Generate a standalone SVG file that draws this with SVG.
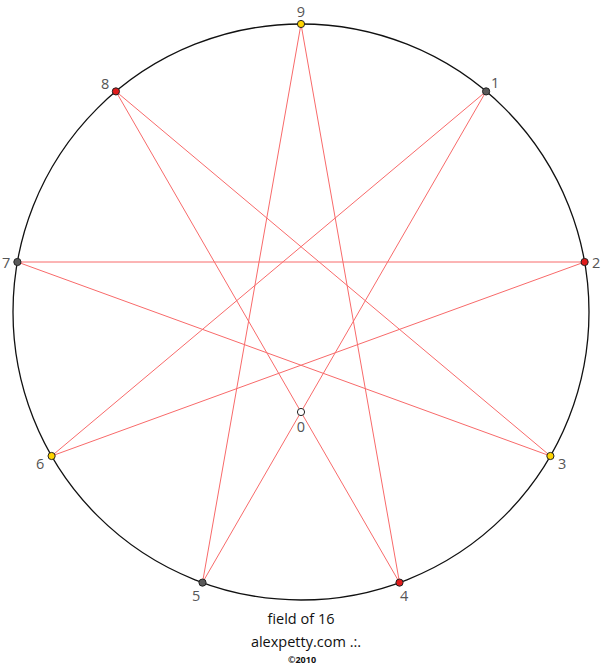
<svg xmlns="http://www.w3.org/2000/svg" width="602" height="672" viewBox="0 0 602 672">
<style>
.lbl{font-family:"Open Sans","Noto Sans",sans-serif;font-size:14.5px;fill:#555}
.dot{stroke:#222;stroke-width:1}
.edge{stroke:#f86a6a;stroke-width:1;fill:none}
.foot{font-family:"Open Sans","Noto Sans",sans-serif;fill:#111;text-anchor:middle}
</style>
<rect width="602" height="672" fill="#fff"/>
<circle id="ring" cx="301" cy="312" r="288" fill="none" stroke="#111" stroke-width="1.3"/>
<g id="connectors">
<line class="edge" x1="301" y1="24" x2="202.5" y2="582.6"/>
<line class="edge" x1="301" y1="24" x2="399.5" y2="582.6"/>
<line class="edge" x1="115.9" y1="91.4" x2="399.5" y2="582.6"/>
<line class="edge" x1="115.9" y1="91.4" x2="550.4" y2="456"/>
<line class="edge" x1="486.1" y1="91.4" x2="202.5" y2="582.6"/>
<line class="edge" x1="486.1" y1="91.4" x2="51.6" y2="456"/>
<line class="edge" x1="17.4" y1="262" x2="584.6" y2="262"/>
<line class="edge" x1="17.4" y1="262" x2="550.4" y2="456"/>
<line class="edge" x1="584.6" y1="262" x2="51.6" y2="456"/>
</g>
<g id="n9"><circle class="dot" cx="301" cy="24" r="3.6" fill="#ffd400"/><text class="lbl" x="301" y="17" text-anchor="middle">9</text></g>
<g id="n1"><circle class="dot" cx="486.1" cy="91.4" r="3.6" fill="#5a5a5a"/><text class="lbl" x="491" y="88">1</text></g>
<g id="n2"><circle class="dot" cx="584.6" cy="262" r="3.6" fill="#e01b1b"/><text class="lbl" x="592" y="268">2</text></g>
<g id="n3"><circle class="dot" cx="550.4" cy="456" r="3.6" fill="#ffd400"/><text class="lbl" x="558" y="469">3</text></g>
<g id="n4"><circle class="dot" cx="399.5" cy="582.6" r="3.6" fill="#e01b1b"/><text class="lbl" x="400" y="601">4</text></g>
<g id="n5"><circle class="dot" cx="202.5" cy="582.6" r="3.6" fill="#5a5a5a"/><text class="lbl" x="192" y="601">5</text></g>
<g id="n6"><circle class="dot" cx="51.6" cy="456" r="3.6" fill="#ffd400"/><text class="lbl" x="36" y="469">6</text></g>
<g id="n7"><circle class="dot" cx="17.4" cy="262" r="3.6" fill="#5a5a5a"/><text class="lbl" x="2" y="268">7</text></g>
<g id="n8"><circle class="dot" cx="115.9" cy="91.4" r="3.6" fill="#e01b1b"/><text class="lbl" x="101" y="89">8</text></g>
<g id="n0"><circle class="dot" cx="301" cy="412" r="3.6" fill="#fff"/><text class="lbl" x="301" y="432" text-anchor="middle">0</text></g>
<g id="footer">
<text class="foot" x="301" y="624" font-size="14.5">field of 16</text>
<text class="foot" x="306" y="647" font-size="14.5">alexpetty.com .:.</text>
<text class="foot" x="302" y="663" font-size="9" font-weight="bold">©2010</text>
</g>
</svg>
